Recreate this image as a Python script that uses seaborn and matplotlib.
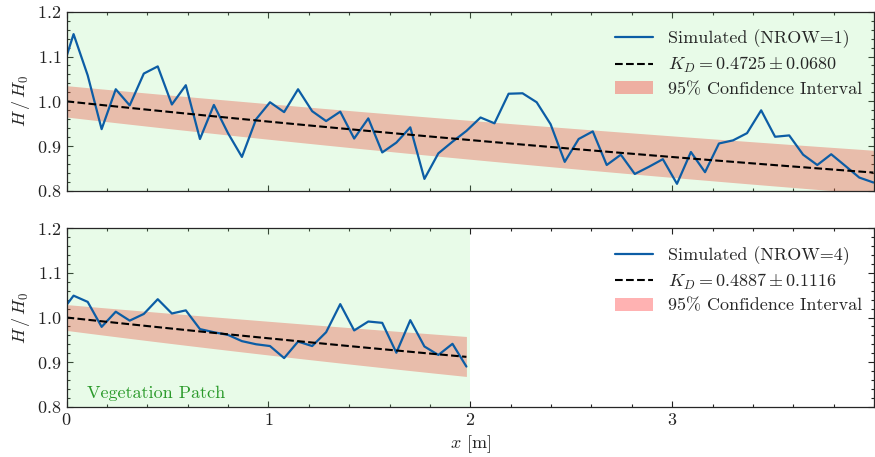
import numpy as np
import seaborn as sns
import matplotlib.pyplot as plt
from matplotlib.ticker import MultipleLocator

# gauge positions [m]
x_top = [0.0, 0.035, 0.105, 0.174, 0.244, 0.313, 0.383, 0.452, 0.522, 0.591,
         0.661, 0.730, 0.800, 0.869, 0.939, 1.008, 1.078, 1.147, 1.217, 1.286,
         1.356, 1.425, 1.495, 1.564, 1.634, 1.703, 1.773, 1.842, 1.912, 1.981,
         2.051, 2.120, 2.190, 2.259, 2.329, 2.398, 2.468, 2.537, 2.607, 2.676,
         2.746, 2.815, 2.885, 2.954, 3.024, 3.093, 3.163, 3.232, 3.302, 3.371,
         3.441, 3.510, 3.580, 3.649, 3.719, 3.788, 3.858, 3.927, 3.997]
h_top = [1.100, 1.150, 1.058, 0.938, 1.027, 0.991, 1.062, 1.078, 0.993, 1.036,
         0.916, 0.992, 0.929, 0.876, 0.960, 0.998, 0.976, 1.027, 0.978, 0.956,
         0.977, 0.917, 0.962, 0.886, 0.908, 0.942, 0.827, 0.884, 0.910, 0.934,
         0.964, 0.951, 1.017, 1.018, 0.998, 0.949, 0.865, 0.916, 0.933, 0.858,
         0.881, 0.838, 0.854, 0.871, 0.816, 0.887, 0.842, 0.906, 0.913, 0.929,
         0.980, 0.921, 0.924, 0.881, 0.858, 0.882, 0.856, 0.830, 0.819]

x_bot = x_top[:30]
h_bot = [1.028, 1.049, 1.035, 0.979, 1.013, 0.993, 1.008, 1.041, 1.009, 1.016,
         0.974, 0.967, 0.961, 0.947, 0.940, 0.936, 0.909, 0.946, 0.936, 0.967,
         1.030, 0.971, 0.991, 0.988, 0.921, 0.994, 0.935, 0.916, 0.941, 0.890]

# fit results
kd_top, ci_top, off_top = 0.4725, 0.0680, 0.035
kd_bot, ci_bot, off_bot = 0.4887, 0.1116, 0.029
decay_scale = 0.1
patch_end = [4.0, 2.0]
nrow = [1, 4]

sns.set_theme(style='ticks')
plt.rcParams['font.family'] = 'serif'
plt.rcParams['font.serif'] = ['cmr10']
plt.rcParams['mathtext.fontset'] = 'cm'
plt.rcParams['axes.unicode_minus'] = False
plt.rcParams['axes.formatter.use_mathtext'] = True
plt.rcParams['font.size'] = 13


def panel(ax, x, h, kd, ci, off, xend, n):
    x = np.array(x)
    fit = 1 / (1 + decay_scale * kd * x)
    upper = (1 + off) / (1 + decay_scale * (kd - ci) * x)
    lower = (1 - off) / (1 + decay_scale * (kd + ci) * x)

    ax.fill_between(x, lower, upper, color='red', alpha=0.3, lw=0,
                    label='95% Confidence Interval')
    # vegetation patch drawn over the band, under the lines
    ax.axvspan(0, xend, color='lightgreen', alpha=0.2, lw=0)
    sns.lineplot(x=x, y=h, ax=ax, color='#0C5DA5', lw=1.6,
                 label=f'Simulated (NROW={n})')
    sns.lineplot(x=x, y=fit, ax=ax, color='black', lw=1.5, linestyle='--',
                 label=rf'$K_D = {kd:.4f} \pm {ci:.4f}$')

    ax.set_xlim(0, 4)
    ax.set_ylim(0.8, 1.2)
    ax.set_xticks([0, 1, 2, 3])
    ax.set_yticks([0.8, 0.9, 1.0, 1.1, 1.2])
    ax.xaxis.set_minor_locator(MultipleLocator(0.2))
    ax.yaxis.set_minor_locator(MultipleLocator(0.02))
    ax.tick_params(which='both', direction='in', top=True, right=True, width=0.8,
                   labelsize=13, colors='#222222')
    ax.tick_params(which='major', length=4)
    ax.tick_params(which='minor', length=2)
    for s in ax.spines.values():
        s.set_linewidth(0.9)
    ax.set_ylabel(r'$H\,/\,H_0$', fontsize=13)

    handles, labels = ax.get_legend_handles_labels()
    order = [1, 2, 0]
    ax.legend([handles[i] for i in order], [labels[i] for i in order],
              loc='upper right', bbox_to_anchor=(0.994, 0.94), borderaxespad=0,
              frameon=False, fontsize=13, handlelength=2.1, labelspacing=0.36)


fig = plt.figure(figsize=(8.75, 4.57), dpi=100)
ax1 = fig.add_axes([66.5 / 875, 1 - 191 / 457, 807.5 / 875, 179.3 / 457])
ax2 = fig.add_axes([66.5 / 875, 1 - 406.7 / 457, 807.5 / 875, 178.4 / 457])

panel(ax1, x_top, h_top, kd_top, ci_top, off_top, patch_end[0], nrow[0])
panel(ax2, x_bot, h_bot, kd_bot, ci_bot, off_bot, patch_end[1], nrow[1])

ax1.tick_params(labelbottom=False)
ax1.set_xlabel('')
ax2.set_xlabel(r'$x$ [m]', fontsize=13)
ax2.text(0.1, 0.82, 'Vegetation Patch', color='#2a9a2a', fontsize=13,
         va='baseline')

fig.savefig('out.png', dpi=100)
